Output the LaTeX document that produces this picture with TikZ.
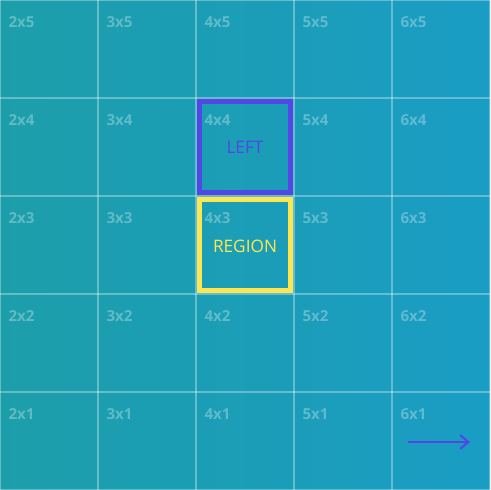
\documentclass[tikz,border=0pt]{standalone}
\usepackage{fontspec}
\setsansfont{Open Sans}
\usetikzlibrary{arrows.meta}
\definecolor{bgleft}{RGB}{28,158,170}
\definecolor{bgright}{RGB}{26,157,196}
\definecolor{leftblue}{RGB}{82,70,229}
\definecolor{regionyellow}{RGB}{253,231,80}
\tikzset{
  gridline/.style={white,opacity=0.32,line width=0.3pt},
  celllabel/.style={anchor=north west,inner sep=0pt,text=white,text opacity=0.3,
    font=\sffamily\bfseries\fontsize{4.4}{5}\selectfont},
  markbox/.style={line width=1.45pt},
  boxtext/.style={font=\sffamily\fontsize{5}{6}\selectfont}
}
\begin{document}
\begin{tikzpicture}
  \useasboundingbox (0,0) rectangle (5,5);
  \shade[left color=bgleft,right color=bgright] (0,0) rectangle (5,5);
  % grid
  \foreach \i in {0,...,5} {
    \draw[gridline] (\i,0)--(\i,5);
    \draw[gridline] (0,\i)--(5,\i);
  }
  % cell labels
  \foreach \c in {2,...,6} {
    \foreach \r in {1,...,5} {
      \node[celllabel] (c-\c-\r) at ({\c-2+0.08},{\r-0.165}) {\c x\r};
    }
  }
  % marked cells
  \draw[markbox,leftblue] (2.036,3.036) rectangle (2.964,3.964);
  \node[boxtext,text=leftblue] (left) at (2.5,3.5) {LEFT};
  \draw[markbox,regionyellow] (2.036,2.036) rectangle (2.964,2.964);
  \node[boxtext,text=regionyellow] (region) at (2.5,2.49) {REGION};
  % direction arrow
  \coordinate (arrowstart) at (4.163,0.49);
  \coordinate (arrowend) at (4.796,0.49);
  \draw[leftblue,line width=0.6pt,-{Straight Barb[length=2.4pt,width=4pt]}] (arrowstart)--(arrowend);
\end{tikzpicture}
\end{document}
